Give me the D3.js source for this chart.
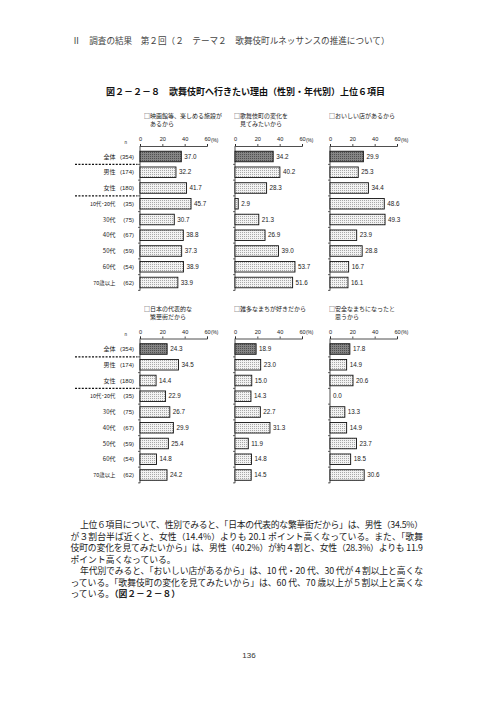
<!DOCTYPE html>
<html><head><meta charset="utf-8">
<script src="https://cdn.jsdelivr.net/npm/d3@7"></script>
<style>
html,body{margin:0;padding:0;background:#fff;}
svg{display:block;}
</style></head>
<body>
<script>
const categories = ["全体","男性","女性","10代･20代","30代","40代","50代","60代","70歳以上"];
const counts = ["(354)","(174)","(180)","(35)","(75)","(67)","(59)","(54)","(62)"];
const panelTitles = [
  ["□映画館等、楽しめる施設が","あるから"],
  ["□歌舞伎町の変化を","見てみたいから"],
  ["□おいしい店があるから"],
  ["□日本の代表的な","繁華街だから"],
  ["□雑多なまちが好きだから"],
  ["□安全なまちになったと","思うから"]
];
const movieValues  = [37.0,32.2,41.7,45.7,30.7,38.8,37.3,38.9,33.9];
const changeValues = [34.2,40.2,28.3,2.9,21.3,26.9,39.0,53.7,51.6];
const foodValues   = [29.9,25.3,34.4,48.6,49.3,23.9,28.8,16.7,16.1];
const districtValues = [24.3,34.5,14.4,22.9,26.7,29.9,25.4,14.8,24.2];
const mixedValues  = [18.9,23.0,15.0,14.3,22.7,31.3,11.9,14.8,14.5];
const safeValues   = [17.8,14.9,20.6,0.0,13.3,14.9,23.7,18.5,30.6];
const tickValues = [0,20,40,60];
const headerText = "Ⅱ　調査の結果　第２回（２　テーマ２　歌舞伎町ルネッサンスの推進について）";
const figTitle = "図２－２－８　歌舞伎町へ行きたい理由（性別・年代別）上位６項目";
const bodyLines = [
  "上位６項目について、性別でみると、「日本の代表的な繁華街だから」は、男性（34.5%）",
  "が３割台半ば近くと、女性（14.4%）よりも 20.1 ポイント高くなっている。また、「歌舞",
  "伎町の変化を見てみたいから」は、男性（40.2%）が約４割と、女性（28.3%）よりも 11.9",
  "ポイント高くなっている。",
  "年代別でみると、「おいしい店があるから」は、10 代・20 代、30 代が４割以上と高くな",
  "っている。「歌舞伎町の変化を見てみたいから」は、60 代、70 歳以上が５割以上と高くな",
  "っている。"
];
const bodyTail = "（図２－２－８）";
const pageNumber = "136";

const panels = [movieValues, changeValues, foodValues, districtValues, mixedValues, safeValues];

const W = 496, H = 702;
const svg = d3.select("body").append("svg").attr("width", W).attr("height", H);
const JP = "'Noto Sans CJK JP', 'Noto Sans', sans-serif";
const NUM = "'Liberation Sans', Arial, sans-serif";

const defs = svg.append("defs");
function stipple(id, bg, dot) {
  const p = defs.append("pattern").attr("id", id).attr("patternUnits", "userSpaceOnUse")
    .attr("width", 2).attr("height", 2);
  p.append("rect").attr("width", 2).attr("height", 2).attr("fill", bg);
  p.append("rect").attr("x", 0).attr("y", 0).attr("width", 1).attr("height", 1).attr("fill", dot);
}
stipple("darkPat", "#858585", "#505050");
stipple("lightPat", "#f2f2f2", "#a8a8a8");

// Header
svg.append("text").attr("x", 72).attr("y", 44).attr("font-family", JP).attr("font-size", 8.6)
  .attr("fill", "#444").text(headerText);
// Title
svg.append("text").attr("x", 106).attr("y", 94.5).attr("font-family", JP).attr("font-size", 9)
  .attr("font-weight", "bold").attr("fill", "#111").text(figTitle);

const colX = [140, 235, 330];
const rowOffset = [0, 192.5];
const xW = 67;

panels.forEach((vals, pi) => {
  const col = pi % 3, row = Math.floor(pi / 3);
  const x0 = colX[col], oy = rowOffset[row];
  const g = svg.append("g");
  const x = d3.scaleLinear().domain([0, 60]).range([x0, x0 + xW]);
  const y = d3.scaleBand().domain(categories).range([148.625 + oy, 290.375 + oy])
    .paddingInner(0.33).paddingOuter(0.165);

  // panel title
  const tl = panelTitles[pi];
  tl.forEach((t, i) => {
    g.append("text").attr("x", x0 + (col === 0 ? 4 : -1) + (i > 0 ? 6 : 0))
      .attr("y", 118 + oy + i * 8).attr("font-family", JP).attr("font-size", 6)
      .attr("fill", "#222").text(t);
  });

  // top axis
  const axisY = 146 + oy;
  const ax = d3.axisTop(x).tickValues(tickValues).tickSize(2).tickPadding(3)
    .tickFormat(d => d);
  const axG = g.append("g").attr("transform", `translate(0,${axisY})`).call(ax);
  axG.select(".domain").attr("stroke", "#222").attr("stroke-width", 0.8);
  axG.selectAll(".tick line").attr("stroke", "#222").attr("stroke-width", 0.8);
  axG.selectAll(".tick text").attr("font-family", NUM).attr("font-size", 5.6).attr("fill", "#222");
  g.append("text").attr("x", x(60) + 4).attr("y", axisY - 4.5).attr("font-family", NUM)
    .attr("font-size", 4.8).attr("fill", "#222").text("(%)");

  // left axis
  g.append("line").attr("x1", x0).attr("x2", x0).attr("y1", axisY).attr("y2", 290.6 + oy)
    .attr("stroke", "#222").attr("stroke-width", 0.8);
  const step = y.step();
  for (let k = 1; k <= 9; k++) {
    const yy = 148.625 + oy + k * step;
    g.append("line").attr("x1", x0 - 2).attr("x2", x0).attr("y1", yy).attr("y2", yy)
      .attr("stroke", "#222").attr("stroke-width", 0.7);
  }

  // bars
  g.selectAll("rect.bar").data(vals).join("rect").attr("class", "bar")
    .attr("x", x0).attr("y", (d, i) => y(categories[i]))
    .attr("width", d => Math.max(0, x(d) - x0)).attr("height", y.bandwidth())
    .attr("fill", (d, i) => i === 0 ? "url(#darkPat)" : "url(#lightPat)")
    .attr("stroke", d => d > 0 ? "#111" : "none").attr("stroke-width", 0.9);
  g.selectAll("text.val").data(vals).join("text").attr("class", "val")
    .attr("x", d => x(d) + 3).attr("y", (d, i) => y(categories[i]) + y.bandwidth() / 2 + 2.2)
    .attr("font-family", NUM).attr("font-size", 6.3).attr("fill", "#222")
    .text(d => d.toFixed(1));

  if (col === 0) {
    g.append("text").attr("x", 125.7).attr("y", axisY - 2.5).attr("text-anchor", "middle")
      .attr("font-family", NUM).attr("font-size", 4.5).attr("fill", "#222").text("n");
    g.selectAll("text.cat").data(categories).join("text").attr("class", "cat")
      .attr("x", 115.5).attr("y", d => y(d) + y.bandwidth() / 2 + 2.2).attr("text-anchor", "end")
      .attr("font-family", JP).attr("font-size", d => d.length > 3 ? 5.4 : 6).attr("fill", "#222").text(d => d);
    g.selectAll("text.cnt").data(counts).join("text").attr("class", "cnt")
      .attr("x", 134).attr("y", (d, i) => y(categories[i]) + y.bandwidth() / 2 + 2.2).attr("text-anchor", "end")
      .attr("font-family", NUM).attr("font-size", 6).attr("fill", "#222").text(d => d);
    [1, 3].forEach(k => {
      const yy = 148.625 + oy + k * step;
      g.append("line").attr("x1", 75).attr("x2", 137.5).attr("y1", yy).attr("y2", yy)
        .attr("stroke", "#111").attr("stroke-width", 1.3).attr("stroke-dasharray", "2,1.4");
    });
  }
});

// Body text
const lineYs = [528, 539.5, 551, 562.5, 574, 585.5, 597];
const justify = [true, true, true, false, true, true, false];
bodyLines.forEach((t, i) => {
  const indent = (i === 0 || i === 4);
  const xs = indent ? 80 : 70.5;
  const tx = svg.append("text").attr("x", xs).attr("y", lineYs[i]).attr("font-family", JP)
    .attr("font-size", 8.8).attr("fill", "#222").text(t);
  if (justify[i]) tx.attr("textLength", 423 - xs).attr("lengthAdjust", "spacing");
  if (i === 6) {
    tx.append("tspan").attr("font-weight", "bold").text(bodyTail);
  }
});

svg.append("text").attr("x", 249).attr("y", 658).attr("text-anchor", "middle")
  .attr("font-family", NUM).attr("font-size", 8).attr("fill", "#333").text(pageNumber);
</script>
</body></html>
